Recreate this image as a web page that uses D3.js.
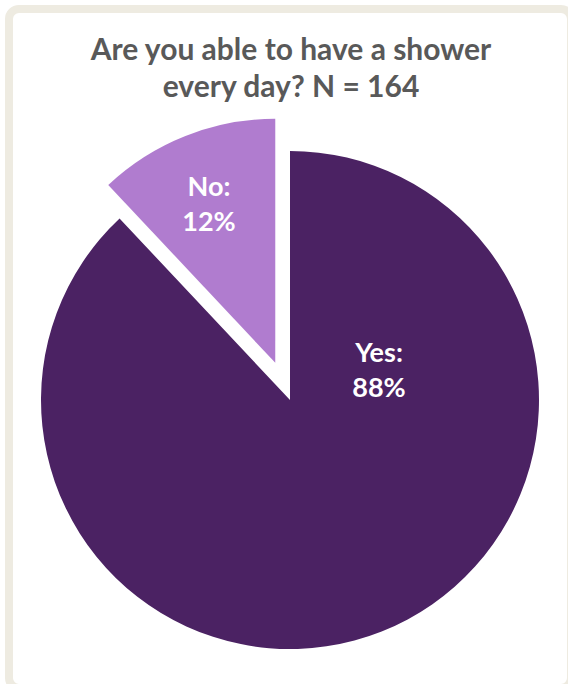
<!DOCTYPE html>
<html>
<head>
<meta charset="utf-8">
<script src="https://cdn.jsdelivr.net/npm/d3@7"></script>
<style>
  html, body { margin: 0; padding: 0; background: #fff; }
  svg { display: block; }
</style>
</head>
<body>
<svg id="chart" width="568" height="684"></svg>
<script>
const categories = ["Yes", "No"];
const values = [88, 12];
const labels = ["Yes:", "No:"];
const title = ["Are you able to have a shower", "every day? N = 164"];

const colors = d3.scaleOrdinal().domain(categories).range(["#4B2263", "#B07CCF"]);

const svg = d3.select("#chart");

// frame
svg.append("rect")
  .attr("x", 9).attr("y", 9).attr("width", 562).attr("height", 679)
  .attr("rx", 10).attr("ry", 10)
  .attr("fill", "#fff").attr("stroke", "#EEEBE1").attr("stroke-width", 8);

// title
svg.append("text")
  .attr("text-anchor", "middle")
  .attr("font-family", "Lato, 'Open Sans', sans-serif")
  .attr("font-weight", "bold")
  .attr("font-size", 30)
  .attr("fill", "#595959")
  .selectAll("tspan").data(title).join("tspan")
  .attr("x", 291)
  .attr("y", (d, i) => 60 + i * 37)
  .text(d => d);

const cx = 290, cy = 400;
const pie = d3.pie().sort(null).value(d => d.value).startAngle(0).endAngle(2 * Math.PI);
const data = categories.map((c, i) => ({ cat: c, value: values[i], label: labels[i] }));
const arcs = pie(data);

const radius = { Yes: 249, No: 244 };
const explode = { Yes: 0, No: 40 };

const g = svg.append("g").attr("transform", `translate(${cx},${cy})`);

arcs.forEach(a => {
  const mid = (a.startAngle + a.endAngle) / 2;
  const off = explode[a.data.cat];
  const ox = Math.sin(mid) * off, oy = -Math.cos(mid) * off;
  const arc = d3.arc().innerRadius(0).outerRadius(radius[a.data.cat]);
  g.append("path")
    .attr("d", arc(a))
    .attr("transform", `translate(${ox},${oy})`)
    .attr("fill", colors(a.data.cat));
});

// labels
const labelOffset = { Yes: [89, -29], No: [-81, -195] };
arcs.forEach(a => {
  const [lx, ly] = labelOffset[a.data.cat];
  const t = g.append("text")
    .attr("text-anchor", "middle")
    .attr("font-family", "Lato, 'Open Sans', sans-serif")
    .attr("font-weight", "bold")
    .attr("font-size", 27)
    .attr("fill", "#fff");
  t.append("tspan").attr("x", lx).attr("y", ly - 9).text(a.data.label);
  t.append("tspan").attr("x", lx).attr("y", ly + 26).text(a.data.value + "%");
});
</script>
</body>
</html>
